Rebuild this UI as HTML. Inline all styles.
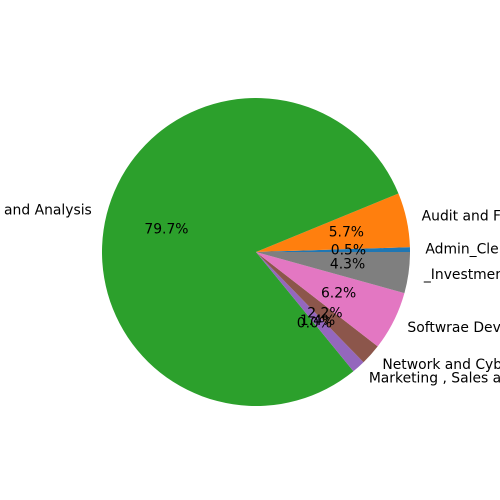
<!DOCTYPE html>
<html><head><meta charset="utf-8"><style>body{margin:0;background:#fff}svg{display:block}text{font-family:"DejaVu Sans","Liberation Sans",sans-serif;font-size:13.9px;fill:#000}</style></head>
<body>
<svg id="chart" width="500" height="500"></svg>
<script>
const labels=["Admin_Clerical","Audit and Finance","Data Science and Analysis","Other","Marketing , Sales and Support","Network and Cyber Security","Softwrae Development","_Investment"];
const values=[0.5,5.7,79.7,0.0,1.4,2.2,6.2,4.3];
const colors=["#1f77b4","#ff7f0e","#2ca02c","#d62728","#9467bd","#8c564b","#e377c2","#7f7f7f"];
const showLabel=[true,true,true,false,true,true,true,true];
const svg=document.getElementById('chart');const NS='http://www.w3.org/2000/svg';
const cx=256,cy=252,r=154;
const total=values.reduce((a,b)=>a+b,0);
const texts=[];
let a0=0;
values.forEach((v,i)=>{
  const a1=a0+v/total*2*Math.PI;
  const p=(a)=>[cx+r*Math.cos(a),cy-r*Math.sin(a)];
  const [x0,y0]=p(a0),[x1,y1]=p(a1);
  if(v>0){
    const path=document.createElementNS(NS,'path');
    path.setAttribute('d',`M${cx},${cy}L${x0},${y0}A${r},${r} 0 ${a1-a0>Math.PI?1:0} 0 ${x1},${y1}Z`);
    path.setAttribute('fill',colors[i]);
    
    
    svg.appendChild(path);
  }
  const m=(a0+a1)/2,c=Math.cos(m),s=Math.sin(m);
  const pt=document.createElementNS(NS,'text');
  pt.setAttribute('x',cx+0.6*r*c);pt.setAttribute('y',cy-0.6*r*s);
  pt.setAttribute('text-anchor','middle');pt.setAttribute('dominant-baseline','central');
  pt.textContent=v.toFixed(1)+'%';
  
  
  texts.push(pt);
  if(showLabel[i]){
    const lt=document.createElementNS(NS,'text');
    lt.setAttribute('x',cx+1.1*r*c);lt.setAttribute('y',cy-1.1*r*s);
    lt.setAttribute('text-anchor',c>=0?'start':'end');lt.setAttribute('dominant-baseline','central');
    lt.textContent=labels[i];
    
    
    texts.push(lt);
  }
  a0=a1;
});
texts.forEach(t=>svg.appendChild(t));
</script>
</body></html>
